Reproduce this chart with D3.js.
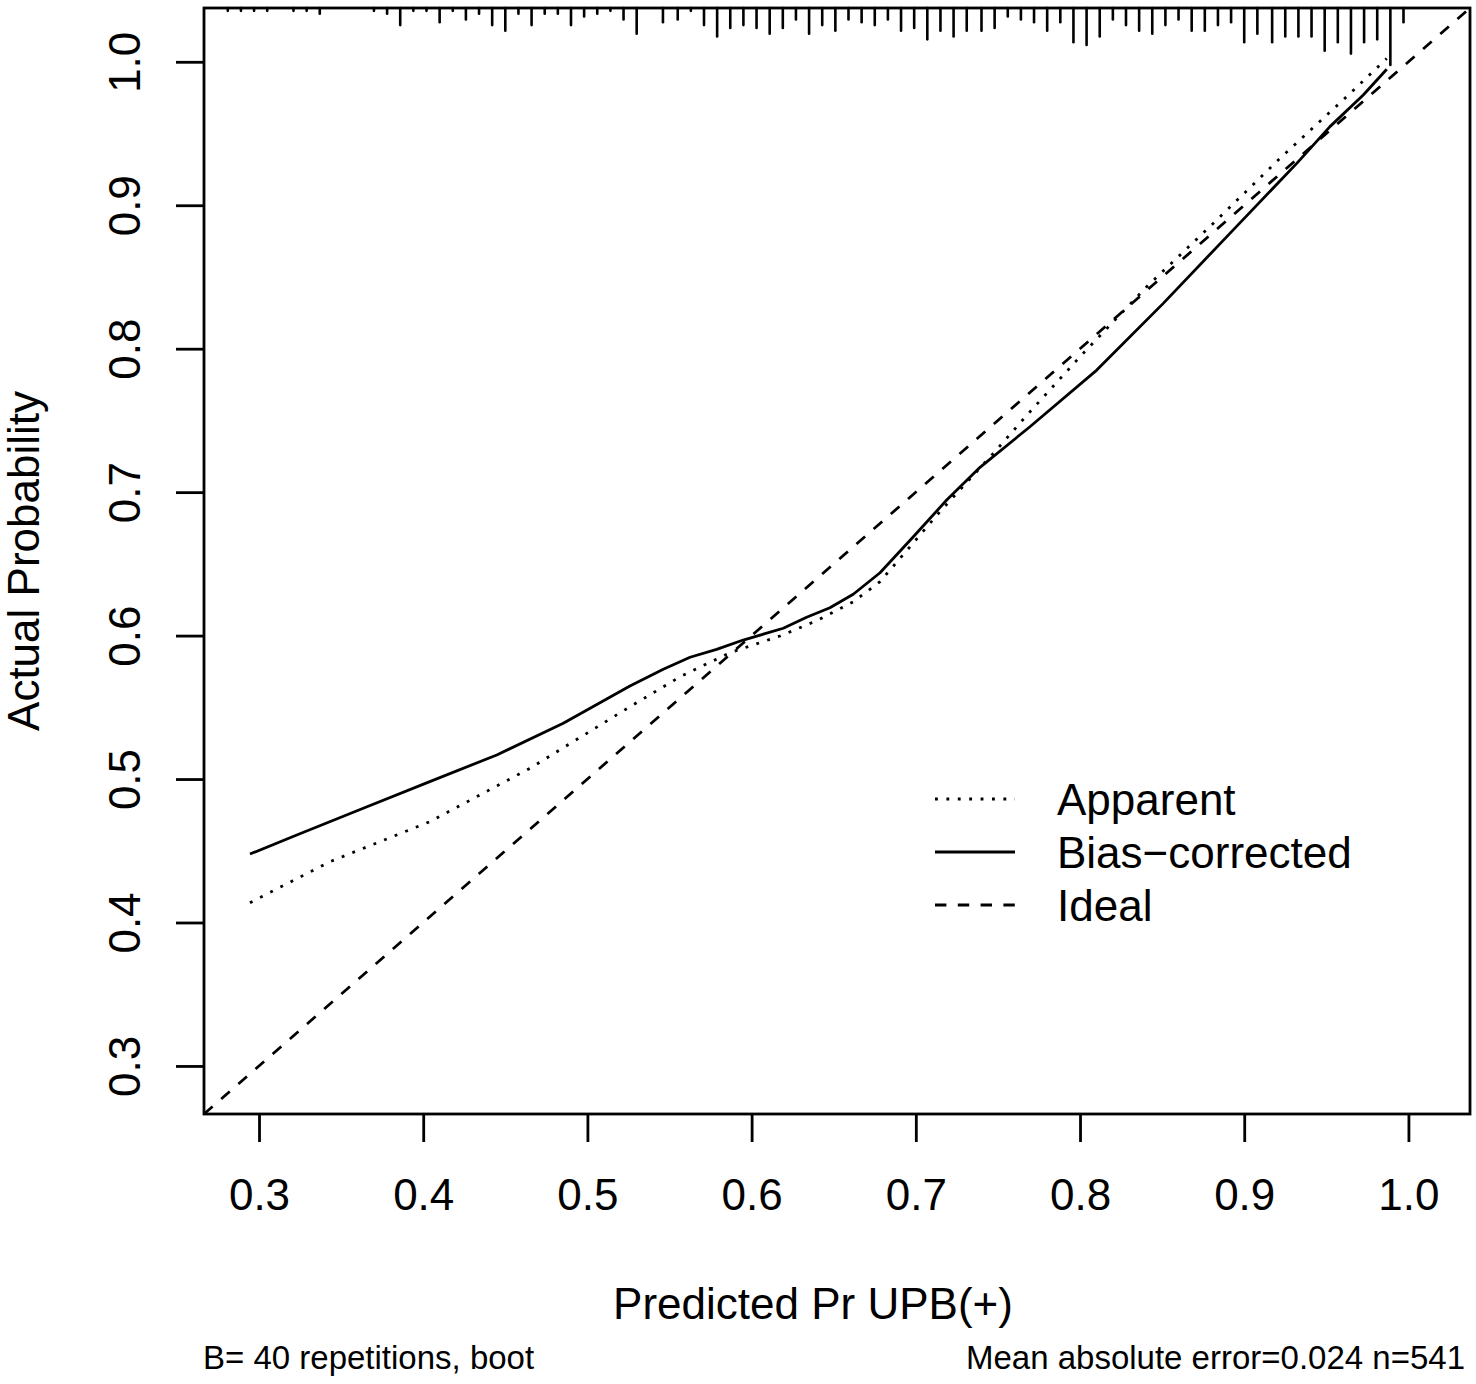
<!DOCTYPE html>
<html>
<head>
<meta charset="utf-8">
<script src="https://cdn.jsdelivr.net/npm/d3@7"></script>
<style>
  body { margin: 0; background: #fff; }
  svg { display: block; font-family: "Liberation Sans", Arial, sans-serif; }
</style>
</head>
<body>
<svg id="chart" width="1476" height="1384"></svg>
<script>
// calibration curve
var apparentX = [0.2945, 0.3432, 0.4041, 0.465, 0.5259, 0.5564, 0.5868, 0.6173, 0.6396, 0.6619,
  0.6782, 0.6965, 0.7147, 0.7472, 0.7695, 0.8, 0.8406, 0.8812, 0.9218, 0.9624, 0.9868];
var apparentY = [0.4138, 0.4424, 0.4703, 0.5075, 0.5504, 0.5713, 0.5881, 0.5997, 0.6104, 0.6236,
  0.6376, 0.662, 0.6864, 0.727, 0.756, 0.7944, 0.8432, 0.8874, 0.9327, 0.9757, 1.0023];

var biasX = [0.2945, 0.323, 0.3635, 0.404, 0.4448, 0.4853, 0.5259, 0.5462, 0.5625, 0.5787,
  0.5949, 0.6193, 0.6335, 0.6477, 0.6619, 0.6782, 0.6985, 0.7188, 0.7391, 0.7695,
  0.8102, 0.8507, 0.8913, 0.932, 0.9522, 0.9725, 0.9868];
var biasY = [0.4477, 0.461, 0.4796, 0.4982, 0.5168, 0.5389, 0.5649, 0.5765, 0.5849, 0.5904,
  0.5969, 0.6051, 0.6128, 0.6194, 0.6288, 0.6438, 0.6689, 0.6945, 0.7173, 0.7456,
  0.7851, 0.8316, 0.8804, 0.9292, 0.9548, 0.9769, 0.9948];

// spike histogram of predicted values along the top (bin centre, count)
var rugX = [0.281, 0.289, 0.297, 0.305, 0.313, 0.321, 0.329, 0.337, 0.345, 0.353,
  0.361, 0.370, 0.378, 0.386, 0.394, 0.402, 0.410, 0.418, 0.426, 0.434,
  0.442, 0.450, 0.458, 0.466, 0.474, 0.482, 0.490, 0.498, 0.506, 0.514,
  0.522, 0.530, 0.538, 0.546, 0.555, 0.563, 0.571, 0.579, 0.587, 0.595,
  0.603, 0.611, 0.619, 0.627, 0.635, 0.643, 0.651, 0.659, 0.667, 0.675,
  0.683, 0.691, 0.699, 0.707, 0.715, 0.723, 0.731, 0.740, 0.748, 0.756,
  0.764, 0.772, 0.780, 0.788, 0.796, 0.804, 0.812, 0.820, 0.828, 0.836,
  0.844, 0.852, 0.860, 0.868, 0.876, 0.884, 0.892, 0.900, 0.908, 0.917,
  0.925, 0.933, 0.941, 0.949, 0.957, 0.965, 0.973, 0.981, 0.989, 0.997];
var rugCount = [1, 1, 1, 1, 0, 1, 1, 2, 0, 0,
  0, 1, 2, 6, 1, 1, 5, 1, 4, 2,
  6, 8, 2, 6, 2, 2, 6, 3, 2, 1,
  4, 9, 0, 5, 4, 1, 6, 10, 7, 6,
  7, 9, 7, 4, 9, 6, 8, 4, 5, 6,
  4, 8, 7, 11, 8, 10, 8, 8, 7, 3,
  4, 5, 8, 5, 12, 13, 10, 4, 6, 8,
  9, 6, 4, 8, 8, 6, 5, 12, 9, 12,
  10, 10, 10, 15, 12, 16, 12, 11, 20, 5];

var tickValues = [0.3, 0.4, 0.5, 0.6, 0.7, 0.8, 0.9, 1.0];
var axisLimits = [0.2665, 1.0375];

var legendLabels = ['Apparent', 'Bias\u2212corrected', 'Ideal'];
var xTitle = 'Predicted Pr UPB(+)';
var yTitle = 'Actual Probability';
var subLeft = 'B= 40 repetitions, boot';
var subRight = 'Mean absolute error=0.024 n=541';

var box = {left: 204, right: 1470, top: 8, bottom: 1114};
var lwd = 2.8;
var dashed = '11.4,11.4';
var dotted = '2.85,8.55';

var svg = d3.select('#chart');

var x = d3.scaleLinear().domain(axisLimits).range([box.left, box.right]);
var y = d3.scaleLinear().domain(axisLimits).range([box.bottom, box.top]);
var spike = d3.scaleLinear().domain([0, 20]).range([0, 57]);

var plot = svg.append('g');

// ideal line, corner to corner
plot.append('line')
  .attr('x1', x(axisLimits[0])).attr('y1', y(axisLimits[0]))
  .attr('x2', x(axisLimits[1])).attr('y2', y(axisLimits[1]))
  .attr('stroke', '#000').attr('stroke-width', lwd)
  .attr('stroke-dasharray', dashed);

var line = d3.line()
  .x(function(d) { return x(d[0]); })
  .y(function(d) { return y(d[1]); });

plot.append('path')
  .datum(d3.zip(apparentX, apparentY))
  .attr('d', line)
  .attr('fill', 'none').attr('stroke', '#000').attr('stroke-width', lwd)
  .attr('stroke-dasharray', dotted);

plot.append('path')
  .datum(d3.zip(biasX, biasY))
  .attr('d', line)
  .attr('fill', 'none').attr('stroke', '#000').attr('stroke-width', lwd)
  .attr('stroke-linejoin', 'round');

// spikes hanging from the top of the box
plot.selectAll('line.spike')
  .data(d3.zip(rugX, rugCount).filter(function(d) { return d[1] > 0; }))
  .enter().append('line')
  .attr('class', 'spike')
  .attr('x1', function(d) { return x(d[0]); })
  .attr('x2', function(d) { return x(d[0]); })
  .attr('y1', box.top)
  .attr('y2', function(d) { return box.top + spike(d[1]); })
  .attr('stroke', '#000').attr('stroke-width', 2.6)
  .attr('stroke-linecap', 'round');

// frame
svg.append('rect')
  .attr('x', box.left).attr('y', box.top)
  .attr('width', box.right - box.left).attr('height', box.bottom - box.top)
  .attr('fill', 'none').attr('stroke', '#000').attr('stroke-width', lwd);

// axes
var xAxis = svg.append('g')
  .attr('transform', 'translate(0,' + box.bottom + ')')
  .call(d3.axisBottom(x).tickValues(tickValues).tickSize(28).tickFormat(d3.format('.1f')));

var yAxis = svg.append('g')
  .attr('transform', 'translate(' + box.left + ',0)')
  .call(d3.axisLeft(y).tickValues(tickValues).tickSize(28).tickFormat(d3.format('.1f')));

[xAxis, yAxis].forEach(function(g) {
  g.select('.domain').remove();
  g.selectAll('.tick line').attr('stroke', '#000').attr('stroke-width', lwd);
  g.selectAll('.tick text')
    .attr('fill', '#000')
    .style('font-size', '44px')
    .style('font-family', '"Liberation Sans", Arial, sans-serif');
});

xAxis.selectAll('.tick text').attr('y', 96).attr('dy', null);

yAxis.selectAll('.tick text')
  .attr('x', null).attr('dy', null)
  .attr('text-anchor', 'middle')
  .attr('transform', 'translate(-64,0) rotate(-90)');

// titles
svg.append('text')
  .attr('x', 813).attr('y', 1319)
  .attr('text-anchor', 'middle')
  .style('font-size', '44px')
  .text(xTitle);

svg.append('text')
  .attr('transform', 'translate(39,' + ((box.top + box.bottom) / 2) + ') rotate(-90)')
  .attr('text-anchor', 'middle')
  .style('font-size', '44px')
  .text(yTitle);

svg.append('text')
  .attr('x', 203).attr('y', 1369)
  .style('font-size', '33px')
  .text(subLeft);

svg.append('text')
  .attr('x', 1465).attr('y', 1369)
  .attr('text-anchor', 'end')
  .style('font-size', '33px')
  .text(subRight);

// legend
var legendDash = [dotted, null, dashed];
var legend = svg.append('g').attr('transform', 'translate(935,799)');
legendLabels.forEach(function(label, i) {
  var row = legend.append('g').attr('transform', 'translate(0,' + (i * 53) + ')');
  row.append('line')
    .attr('x1', 0).attr('x2', 80).attr('y1', 0).attr('y2', 0)
    .attr('stroke', '#000').attr('stroke-width', lwd)
    .attr('stroke-dasharray', legendDash[i]);
  row.append('text')
    .attr('x', 122).attr('y', 16)
    .style('font-size', '44px')
    .text(label);
});
</script>
</body>
</html>
